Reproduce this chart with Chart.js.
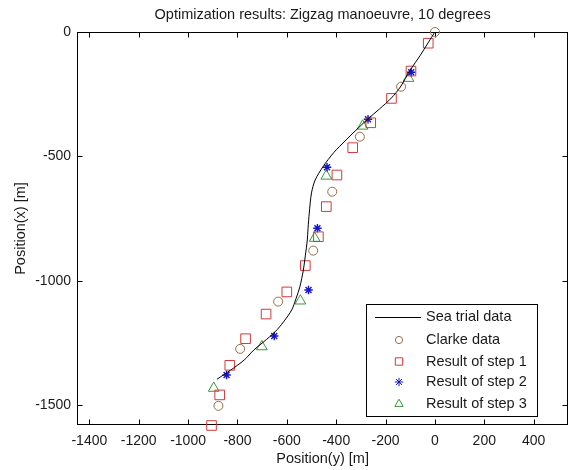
<!DOCTYPE html>
<html><head><meta charset="utf-8">
<script src="https://cdn.jsdelivr.net/npm/chart.js@4.4.0/dist/chart.umd.min.js"></script>
<style>html,body{margin:0;padding:0;background:#fff;}canvas{display:block;}</style>
</head><body>
<canvas id="c" width="576" height="470"></canvas>
<script>
// ---- data ----
const seaTrialX = [0,-28,-60,-100,-140,-176,-225,-272,-320,-360,-410,-453,-485,-500,-509,-514,-517,-525,-533,-547,-562,-580,-613,-647,-693,-733,-773,-827,-883];
const seaTrialY = [0,-44,-95,-153,-221,-265,-310,-350,-395,-434,-485,-541,-595,-647,-728,-790,-836,-900,-957,-1024,-1070,-1117,-1165,-1205,-1245,-1278,-1319,-1359,-1396];
const clarkeX = [0,-137,-304,-416,-493,-635,-789,-877];
const clarkeY = [0,-220,-421,-642,-879,-1084,-1274,-1503];
const step1X = [-27,-97,-176,-260,-333,-397,-440,-472,-525,-600,-684,-767,-831,-872,-905];
const step1Y = [-45,-157,-267,-365,-465,-575,-702,-823,-939,-1045,-1134,-1233,-1340,-1459,-1582];
const step2X = [-96,-271,-437,-476,-512,-651,-844];
const step2Y = [-162,-351,-544,-789,-1037,-1222,-1379];
const step3X = [-107,-293,-440,-487,-545,-701,-896];
const step3Y = [-186,-378,-579,-829,-1081,-1265,-1432];
const xTickValues = [-1400,-1200,-1000,-800,-600,-400,-200,0,200,400];
const yTickValues = [0,-500,-1000,-1500];
const seriesLabels = ['Sea trial data','Clarke data','Result of step 1','Result of step 2','Result of step 3'];
const titleText = 'Optimization results: Zigzag manoeuvre, 10 degrees';
const xAxisTitle = 'Position(y) [m]';
const yAxisTitle = 'Position(x) [m]';

function pts(xs, ys){ return xs.map((x,i)=>({x:x, y:ys[i]})); }
const FONT = "'Liberation Sans', Arial, sans-serif";
const TXT = '#1a1a1a';

const bgPlugin = {
  id:'bg',
  beforeDraw(chart){ const c=chart.ctx; c.save(); c.fillStyle='#fff'; c.fillRect(0,0,chart.width,chart.height); c.restore(); }
};

const framePlugin = {
  id:'frame',
  beforeDatasetsDraw(chart){
    const ctx=chart.ctx, a=chart.chartArea, xs=chart.scales.x, ys=chart.scales.y, L=5;
    ctx.save();
    ctx.strokeStyle='#000'; ctx.lineWidth=1;
    const l=Math.round(a.left)+0.5, r=Math.round(a.right)-0.5, t=Math.round(a.top)+0.5, b=Math.round(a.bottom)-0.5;
    ctx.strokeRect(l,t,r-l,b-t);
    ctx.beginPath();
    xs.ticks.forEach(tk=>{ const px=Math.round(xs.getPixelForValue(tk.value))+0.5;
      ctx.moveTo(px,b); ctx.lineTo(px,b-L); ctx.moveTo(px,t); ctx.lineTo(px,t+L); });
    ys.ticks.forEach(tk=>{ const py=Math.round(ys.getPixelForValue(tk.value))+0.5;
      ctx.moveTo(l,py); ctx.lineTo(l+L,py); ctx.moveTo(r,py); ctx.lineTo(r-L,py); });
    ctx.stroke();
    ctx.restore();
  }
};

const legendRadius = {circle:3.6, rect:5.2, star:4.2, triangle:4.8};

const legendPlugin = {
  id:'matlabLegend',
  afterDatasetsDraw(chart){
    const ctx=chart.ctx;
    const L=366.5, T=304.5, R=537.5, B=416.5;
    ctx.save();
    ctx.fillStyle='#fff'; ctx.fillRect(L,T,R-L,B-T);
    ctx.strokeStyle='#000'; ctx.lineWidth=1; ctx.strokeRect(L,T,R-L,B-T);
    const rowY=[317,340,361.5,382,404];
    chart.data.datasets.forEach((ds,i)=>{
      const y=rowY[i];
      if (ds.showLine){
        ctx.strokeStyle=ds.borderColor; ctx.lineWidth=1;
        ctx.beginPath(); ctx.moveTo(375,Math.round(y)+0.5); ctx.lineTo(421,Math.round(y)+0.5); ctx.stroke();
      } else {
        ctx.strokeStyle=ds.borderColor; ctx.fillStyle='rgba(0,0,0,0)'; ctx.lineWidth=1;
        Chart.helpers.drawPoint(ctx,{pointStyle:ds.pointStyle, radius:legendRadius[ds.pointStyle], borderWidth:1, rotation:0},399,y);
      }
      ctx.fillStyle=TXT; ctx.font='14.5px '+FONT; ctx.textBaseline='middle'; ctx.textAlign='left';
      ctx.fillText(ds.label,426,y);
    });
    ctx.restore();
  }
};

const markerBase = {showLine:false, backgroundColor:'rgba(0,0,0,0)', clip:false, pointHoverRadius:0};

new Chart(document.getElementById('c'), {
  type:'scatter',
  data:{ datasets:[
    {label:seriesLabels[0], data:pts(seaTrialX,seaTrialY), showLine:true, borderColor:'#000', borderWidth:1, pointRadius:0, tension:0.3, fill:false},
    Object.assign({label:seriesLabels[1], data:pts(clarkeX,clarkeY), pointStyle:'circle', pointRadius:4.5, borderColor:'#9c6e44', pointBorderColor:'#9c6e44', borderWidth:1, pointBorderWidth:1}, markerBase),
    Object.assign({label:seriesLabels[2], data:pts(step1X,step1Y), pointStyle:'rect', pointRadius:6.8, borderColor:'#d23a3a', pointBorderColor:'#d23a3a', borderWidth:1, pointBorderWidth:1}, markerBase),
    Object.assign({label:seriesLabels[3], data:pts(step2X,step2Y), pointStyle:'star', pointRadius:4.2, borderColor:'#1515d0', pointBorderColor:'#1515d0', borderWidth:1.4, pointBorderWidth:1.4}, markerBase),
    Object.assign({label:seriesLabels[4], data:pts(step3X,step3Y), pointStyle:'triangle', pointRadius:6.2, borderColor:'#3a9a3a', pointBorderColor:'#3a9a3a', borderWidth:1, pointBorderWidth:1}, markerBase)
  ]},
  options:{
    responsive:false, animation:false, devicePixelRatio:1,
    layout:{padding:{left:0,right:1,top:0,bottom:2}},
    plugins:{
      legend:{display:false}, tooltip:{enabled:false},
      title:{display:true, text:titleText, fullSize:false, color:TXT,
        font:{family:FONT, size:14.5, weight:'normal', lineHeight:1.2}, padding:{top:6,bottom:8.6}}
    },
    scales:{
      x:{type:'linear', min:-1450, max:540, position:'bottom',
        grid:{display:false, drawTicks:false}, border:{display:false},
        afterBuildTicks(s){ s.ticks = xTickValues.map(v=>({value:v})); },
        afterFit(s){ s.height = 43; },
        ticks:{color:TXT, padding:8, maxRotation:0, autoSkip:false, font:{family:FONT,size:14}, callback:(v)=>String(v)},
        title:{display:true, text:xAxisTitle, color:TXT, font:{family:FONT,size:14.5,lineHeight:1.2}, padding:{top:0,bottom:0.5}}
      },
      y:{type:'linear', min:-1580, max:0, position:'left',
        grid:{display:false, drawTicks:false}, border:{display:false},
        afterBuildTicks(s){ s.ticks = yTickValues.map(v=>({value:v})); },
        afterFit(s){ s.width = 77; },
        ticks:{color:TXT, padding:6, autoSkip:false, font:{family:FONT,size:14}, callback:(v)=>String(v)},
        title:{display:true, text:yAxisTitle, color:TXT, font:{family:FONT,size:14.5,lineHeight:1.2}, padding:{top:12,bottom:0}}
      }
    }
  },
  plugins:[bgPlugin, framePlugin, legendPlugin]
});
</script>
</body></html>
